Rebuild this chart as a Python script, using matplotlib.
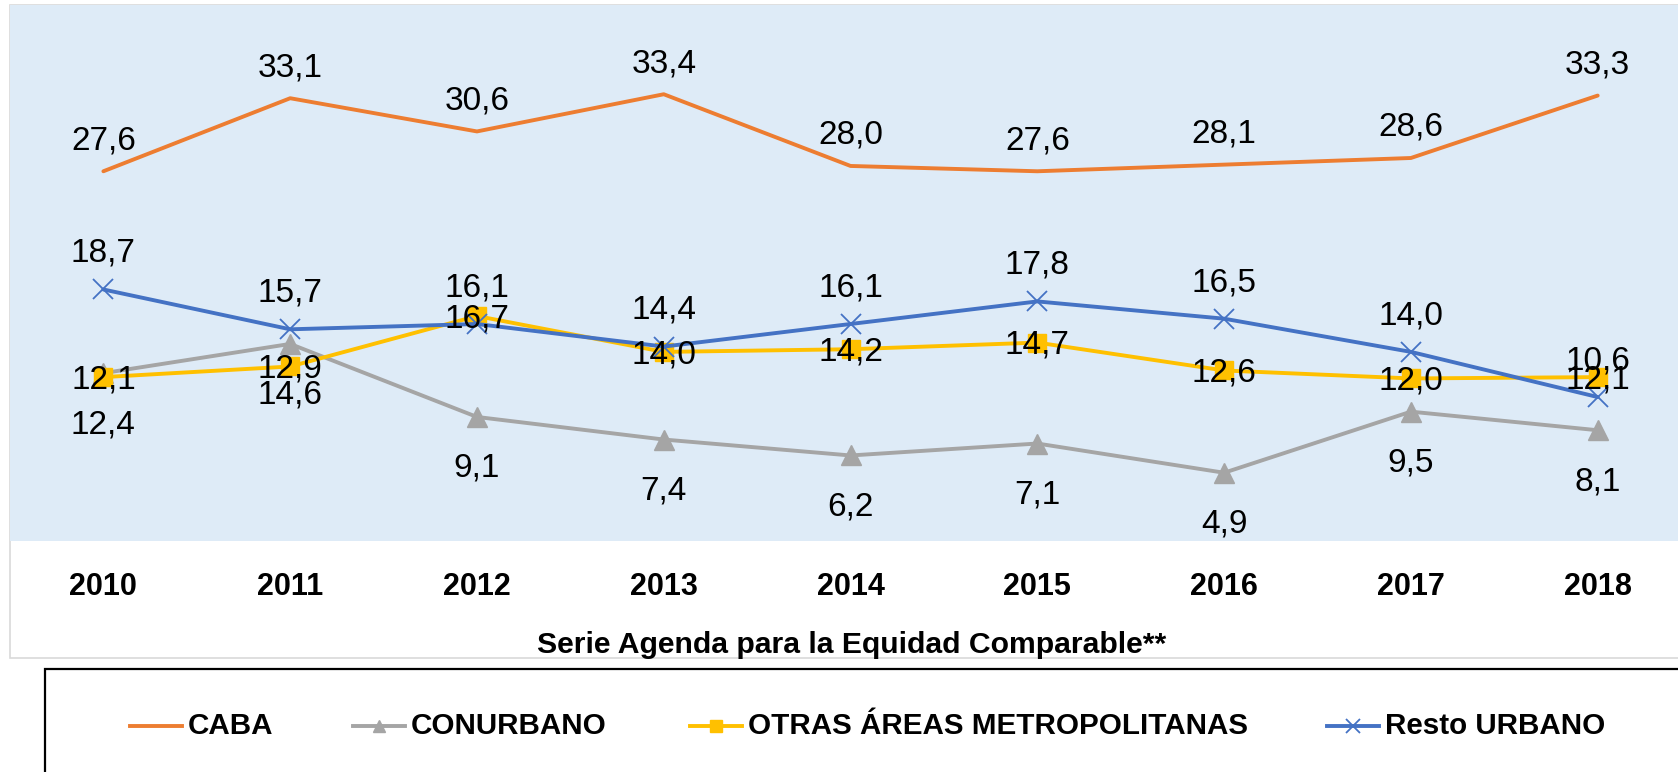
import matplotlib
matplotlib.use("Agg")
import matplotlib.pyplot as plt
from matplotlib.lines import Line2D
from matplotlib.patches import Rectangle

years = ["2010", "2011", "2012", "2013", "2014", "2015", "2016", "2017", "2018"]
series_names = ["CABA", "CONURBANO", "OTRAS ÁREAS METROPOLITANAS", "Resto URBANO"]
caba = [27.6, 33.1, 30.6, 33.4, 28.0, 27.6, 28.1, 28.6, 33.3]
conurbano = [12.4, 14.6, 9.1, 7.4, 6.2, 7.1, 4.9, 9.5, 8.1]
otras = [12.1, 12.9, 16.7, 14.0, 14.2, 14.7, 12.6, 12.0, 12.1]
resto = [18.7, 15.7, 16.1, 14.4, 16.1, 17.8, 16.5, 14.0, 10.6]
x_title = "Serie Agenda para la Equidad Comparable**"

plt.rcParams['font.family'] = ['Liberation Sans', 'DejaVu Sans']

W, H = 1678, 772
fig = plt.figure(figsize=(W / 100, H / 100), dpi=100)

def fx(px):
    return px / W

def fy(py):
    return 1 - py / H

# outer chart area (white with light grey border)
fig.add_artist(Rectangle((fx(10), fy(658)), fx(1700) - fx(10), fy(5) - fy(658),
                         transform=fig.transFigure, facecolor="white",
                         edgecolor="#D9D9D9", lw=1.2, zorder=0))

ax = fig.add_axes([fx(10), fy(541), 1 - fx(10), fy(5) - fy(541)])
ax.set_facecolor("#DEEBF7")
for s in ax.spines.values():
    s.set_visible(False)
ax.set_xlim(-0.5, 8.43)
ax.set_ylim(-0.24, 40.12)
ax.set_yticks([])
xs = list(range(len(years)))
ax.set_xticks(xs)
ax.set_xticklabels(years, fontsize=22, fontweight="bold")
ax.tick_params(axis="x", length=0, pad=33)
for t in ax.get_xticklabels():
    t.set_va("center")

styles = [
    dict(color="#ED7D31", marker=None),
    dict(color="#A5A5A5", marker="^", ms=15, mec="#A5A5A5", mfc="#A5A5A5"),
    dict(color="#FFC000", marker="s", ms=13, mec="#FFC000", mfc="#FFC000"),
    dict(color="#4472C4", marker="x", ms=15, mec="#4472C4", mew=1.3),
]
data = [caba, conurbano, otras, resto]
offsets = [22, -37, -2, 26]  # points

for vals, st, off in zip(data, styles, offsets):
    kw = dict(st)
    color = kw.pop("color")
    ax.plot(xs, vals, color=color, lw=2.8, solid_capstyle="round", **kw, zorder=3)
    for xi, v in zip(xs, vals):
        ax.annotate(f"{v:.1f}".replace(".", ","), (xi, v), xytext=(0, off),
                    textcoords="offset points", ha="center", va="center",
                    fontsize=24, color="black", zorder=5)

fig.text(fx(852), fy(645), x_title, ha="center", va="center",
         fontsize=21.7, fontweight="bold")

# legend box
fig.add_artist(Rectangle((fx(45), fy(800)), fx(1700) - fx(45), fy(669) - fy(800),
                         transform=fig.transFigure, facecolor="white",
                         edgecolor="black", lw=1.6, zorder=1))

handle_x = [130, 353, 690, 1327]
leg_y = 726
leg_ms = [None, 9, 9, 10]
for name, st, hx, lms in zip(series_names, styles, handle_x, leg_ms):
    kw = dict(st)
    color = kw.pop("color")
    m = kw.pop("marker")
    kw.pop("ms", None)
    ln = Line2D([fx(hx), fx(hx + 26), fx(hx + 52)], [fy(leg_y)] * 3,
                transform=fig.transFigure, color=color, lw=2.8,
                marker=m, markevery=[1] if m else None,
                ms=lms if lms else 0, **kw, zorder=3)
    fig.add_artist(ln)
    fig.text(fx(hx + 58), fy(leg_y), name, ha="left", va="center",
             fontsize=21.3, fontweight="bold", zorder=3)

fig.savefig("out.png", dpi=100)
